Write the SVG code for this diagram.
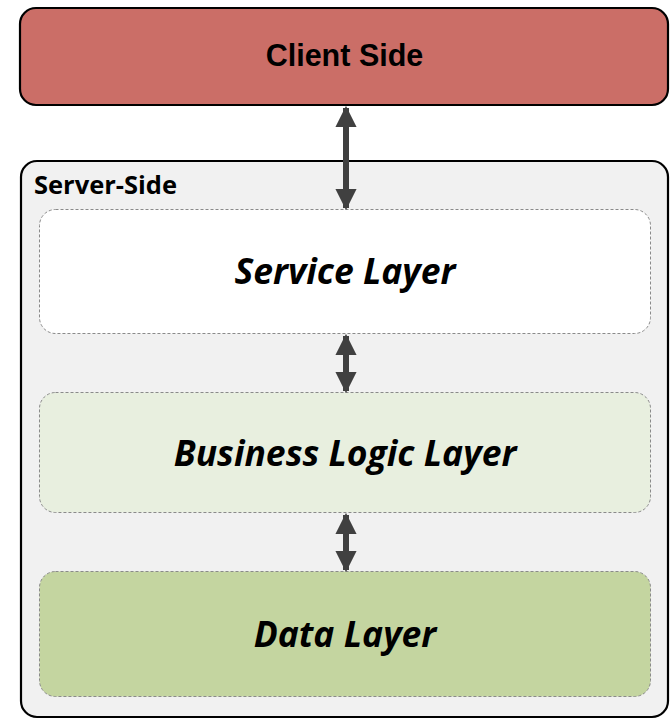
<svg xmlns="http://www.w3.org/2000/svg" width="671" height="719" viewBox="0 0 671 719">
  <style>
    .tier { stroke: #000; stroke-width: 2.2; }
    .layer { stroke: #8a8a8a; stroke-width: 1; stroke-dasharray: 3 2; }
    .layer-label { font-family: "Open Sans", Lato, sans-serif; font-weight: bold; font-style: italic; font-size: 35.5px; fill: #000; text-anchor: middle; }
    .link { stroke: #404040; stroke-width: 6; fill: none; }
  </style>
  <defs>
    <marker id="head" viewBox="0 0 10 10" refX="9" refY="5" markerWidth="3.6" markerHeight="3.6" orient="auto-start-reverse" markerUnits="strokeWidth">
      <path d="M0,0 L10,5 L0,10 Z" fill="#404040"/>
    </marker>
  </defs>

  <rect width="671" height="719" fill="#fff"/>

  <g id="client-side">
    <rect class="tier" x="20" y="8" width="648" height="97" rx="16" fill="#cb6e67"/>
    <text x="344.5" y="66" font-family="'Liberation Sans', Arial, sans-serif" font-weight="bold" font-size="30.5" text-anchor="middle" fill="#000">Client Side</text>
  </g>

  <g id="server-side">
    <rect class="tier" x="21" y="161" width="647" height="556" rx="16" fill="#f1f1f1"/>
    <text x="34" y="194" font-family="'Open Sans', Lato, sans-serif" font-weight="bold" font-size="25.5" fill="#000">Server-Side</text>
  </g>

  <g id="service-layer">
    <rect class="layer" x="39.5" y="209.5" width="611" height="124" rx="16" fill="#ffffff"/>
    <text class="layer-label" x="345" y="284">Service Layer</text>
  </g>

  <g id="business-logic-layer">
    <rect class="layer" x="39.5" y="392.5" width="611" height="120" rx="16" fill="#e8efdf"/>
    <text class="layer-label" x="345" y="466">Business Logic Layer</text>
  </g>

  <g id="data-layer">
    <rect class="layer" x="39.5" y="571.5" width="611" height="125" rx="16" fill="#c4d5a0"/>
    <text class="layer-label" x="345" y="647">Data Layer</text>
  </g>

  <g id="connectors">
    <line class="link" x1="346" y1="108" x2="346" y2="208" marker-start="url(#head)" marker-end="url(#head)"/>
    <line class="link" x1="346" y1="336" x2="346" y2="391" marker-start="url(#head)" marker-end="url(#head)"/>
    <line class="link" x1="346" y1="515" x2="346" y2="570" marker-start="url(#head)" marker-end="url(#head)"/>
  </g>
</svg>
